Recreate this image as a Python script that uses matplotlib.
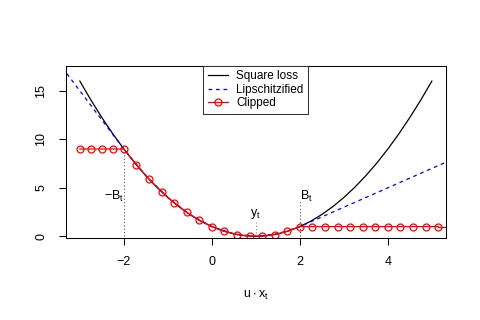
import matplotlib
matplotlib.use("Agg")
import matplotlib.pyplot as plt

plt.rcParams['font.family'] = ['Liberation Sans', 'DejaVu Sans']
plt.rcParams['mathtext.default'] = 'regular'

# square loss (u.x - y)^2 with y_t = 1, read at steps of 0.25
sq_x = [-3.0, -2.75, -2.5, -2.25, -2.0, -1.75, -1.5, -1.25, -1.0, -0.75, -0.5,
        -0.25, 0.0, 0.25, 0.5, 0.75, 1.0, 1.25, 1.5, 1.75, 2.0, 2.25, 2.5,
        2.75, 3.0, 3.25, 3.5, 3.75, 4.0, 4.25, 4.5, 4.75, 5.0]
sq_y = [16.0, 14.06, 12.25, 10.56, 9.0, 7.56, 6.25, 5.06, 4.0, 3.06, 2.25,
        1.56, 1.0, 0.56, 0.25, 0.06, 0.0, 0.06, 0.25, 0.56, 1.0, 1.56, 2.25,
        3.06, 4.0, 5.06, 6.25, 7.56, 9.0, 10.56, 12.25, 14.06, 16.0]

# lipschitzified loss: linear outside [-B, B]
lip_x = [-3.5, -2.0, -1.5, -1.0, -0.5, 0.0, 0.5, 1.0, 1.5, 2.0, 5.5]
lip_y = [18.0, 9.0, 6.25, 4.0, 2.25, 1.0, 0.25, 0.0, 0.25, 1.0, 8.0]

# clipped loss points
clip_x = [-3.0, -2.75, -2.5, -2.25,
          -2.0, -1.714, -1.429, -1.143, -0.857, -0.571, -0.286, 0.0,
          0.286, 0.571, 0.857, 1.143, 1.429, 1.714, 2.0,
          2.286, 2.571, 2.857, 3.143, 3.429, 3.714, 4.0, 4.286, 4.571,
          4.857, 5.143]
clip_y = [9.0, 9.0, 9.0, 9.0,
          9.0, 7.37, 5.90, 4.59, 3.45, 2.47, 1.65, 1.0,
          0.51, 0.18, 0.02, 0.02, 0.18, 0.51, 1.0,
          1.0, 1.0, 1.0, 1.0, 1.0, 1.0, 1.0, 1.0, 1.0,
          1.0, 1.0]
clip_tail_x = [5.143, 5.5]
clip_tail_y = [1.0, 1.0]

B = 2.0
y_t = 1.0

fig = plt.figure(figsize=(4.8, 3.2), dpi=100)
ax = fig.add_axes([0.137, 0.257, 0.792, 0.538])

ax.plot(sq_x, sq_y, color='black', lw=0.9, label='Square loss')
ax.plot(lip_x, lip_y, color='blue', lw=0.9, dashes=(3, 3), label='Lipschitzified')
ax.plot(clip_x, clip_y, color='red', lw=0.9, marker='o', ms=5,
        mfc='none', mec='red', mew=0.9, label='Clipped')
ax.plot(clip_tail_x, clip_tail_y, color='red', lw=0.9)

ax.plot([-B, -B], [0, 9.0], color='#555555', lw=0.8, ls=(0, (1, 2)))
ax.plot([B, B], [0, 3.6], color='#555555', lw=0.8, ls=(0, (1, 2)))
ax.plot([y_t, y_t], [0.3, 1.5], color='#888888', lw=0.8, ls=(0, (1, 2)))

ax.text(-B, 4.1, '$-B_t$', ha='right', va='center', fontsize=9)
ax.text(B, 4.1, '$B_t$', ha='left', va='center', fontsize=9)
ax.text(y_t, 2.3, '$y_t$', ha='center', va='center', fontsize=9)

ax.set_xlim(-3.32, 5.32)
ax.set_ylim(-0.15, 17.6)
ax.set_xticks([-2, 0, 2, 4])
ax.set_yticks([0, 5, 10, 15])
ax.tick_params(direction='out', length=5.2, width=0.75, labelsize=9, pad=8)
for lab in ax.get_yticklabels():
    lab.set_rotation(90)
    lab.set_va('center')
for s in ax.spines.values():
    s.set_linewidth(0.75)

ax.set_xlabel('$u \\cdot x_t$', fontsize=9, labelpad=15)

leg = ax.legend(loc='upper center', bbox_to_anchor=(0.5, 1.0), borderaxespad=0,
                fancybox=False, framealpha=1, edgecolor='#333333', fontsize=8.5,
                handlelength=1.7, handletextpad=0.7, labelspacing=0.12,
                borderpad=0.4)
leg.get_frame().set_linewidth(0.75)

fig.savefig('out.png', dpi=100)
